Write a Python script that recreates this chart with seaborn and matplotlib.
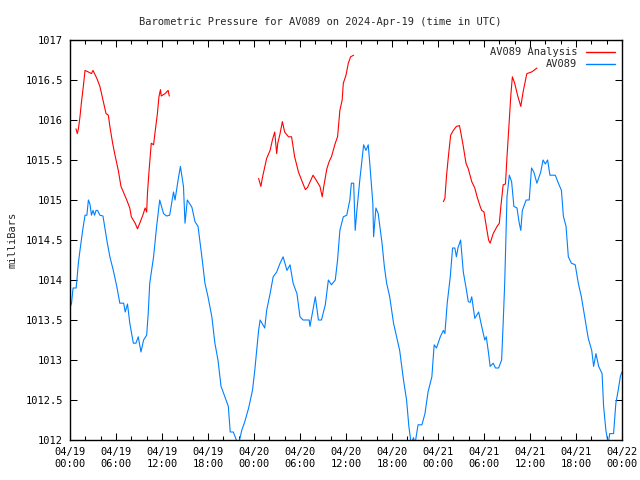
import numpy as np
import pandas as pd
import matplotlib
matplotlib.use("Agg")
import matplotlib.pyplot as plt
import seaborn as sns
from matplotlib.ticker import MultipleLocator, FuncFormatter

# ---- data (hours since 2024-04-19 00:00 UTC, millibars) ----
obs_hours = [0.0, 0.2, 0.4, 0.8, 0.9, 1.09, 1.3, 1.65, 1.96, 2.2, 2.4, 2.6, 2.8, 3.0, 3.2, 3.4,
             3.6, 3.9, 4.3, 4.8, 5.2, 5.65, 6.1, 6.5, 7.0, 7.2, 7.5, 7.8, 8.26, 8.6, 8.9, 9.26,
             9.6, 10.0, 10.2, 10.4, 10.9, 11.3, 11.7, 12.2, 12.6, 13.0, 13.5, 13.7, 14.1, 14.4,
             14.8, 15.0, 15.3, 15.9, 16.3, 16.7, 17.2, 17.6, 18.0, 18.5, 18.9, 19.3, 19.7, 19.9,
             20.2, 20.65, 20.9, 21.3, 21.7, 22.0, 22.4, 22.8, 23.3, 23.8, 24.1, 24.6, 24.8, 25.4,
             25.65, 26.1, 26.5, 26.96, 27.4, 27.8, 28.3, 28.7, 29.1, 29.6, 30.0, 30.4, 31.2, 31.3,
             32.0, 32.4, 32.8, 33.3, 33.7, 34.1, 34.6, 34.9, 35.2, 35.65, 36.1, 36.5, 36.7, 37.0,
             37.2, 37.4, 37.8, 38.3, 38.6, 38.9, 39.1, 39.5, 39.6, 39.9, 40.2, 40.7, 41.0, 41.3,
             41.7, 42.2, 42.6, 43.0, 43.5, 43.9, 44.2, 44.5, 44.8, 45.0, 45.4, 45.9, 46.3, 46.7,
             47.2, 47.5, 47.8, 48.3, 48.7, 48.9, 49.2, 49.6, 49.9, 50.2, 50.4, 50.6, 50.95, 51.3,
             51.7, 51.95, 52.2, 52.4, 52.8, 53.3, 53.7, 54.1, 54.3, 54.6, 54.8, 55.2, 55.5, 55.9,
             56.3, 56.5, 56.7, 57.0, 57.3, 57.6, 57.9, 58.3, 58.6, 58.8, 59.0, 59.5, 59.9, 60.2,
             60.5, 60.9, 61.4, 61.7, 62.0, 62.3, 62.6, 63.3, 63.7, 64.1, 64.35, 64.7, 65.0, 65.4,
             65.9, 66.3, 66.7, 67.2, 67.6, 68.05, 68.3, 68.6, 68.96, 69.4, 69.6, 69.9, 70.2, 70.4,
             70.9, 71.2, 71.5, 71.8, 72.0]
obs_mb = [1013.65, 1013.71, 1013.9, 1013.9, 1014.0, 1014.21, 1014.37, 1014.62, 1014.81, 1014.81,
          1015.0, 1014.95, 1014.81, 1014.87, 1014.81, 1014.87, 1014.87, 1014.81, 1014.8, 1014.5,
          1014.29, 1014.12, 1013.92, 1013.71, 1013.71, 1013.6, 1013.7, 1013.46, 1013.21, 1013.21,
          1013.29, 1013.1, 1013.25, 1013.31, 1013.58, 1013.96, 1014.29, 1014.67, 1015.0, 1014.83,
          1014.8, 1014.81, 1015.1, 1015.0, 1015.25, 1015.42, 1015.17, 1014.71, 1015.0, 1014.91,
          1014.73, 1014.67, 1014.29, 1013.96, 1013.79, 1013.54, 1013.21, 1013.0, 1012.67, 1012.62,
          1012.54, 1012.42, 1012.1, 1012.1, 1012.0, 1011.95, 1012.12, 1012.23, 1012.4, 1012.62,
          1012.87, 1013.37, 1013.5, 1013.4, 1013.62, 1013.83, 1014.04, 1014.1, 1014.21, 1014.29,
          1014.12, 1014.19, 1013.96, 1013.83, 1013.54, 1013.5, 1013.5, 1013.42, 1013.79, 1013.5,
          1013.5, 1013.69, 1014.0, 1013.94, 1014.0, 1014.25, 1014.62, 1014.79, 1014.81, 1015.0,
          1015.21, 1015.21, 1014.62, 1014.85, 1015.25, 1015.69, 1015.62, 1015.69, 1015.46, 1014.96,
          1014.54, 1014.9, 1014.83, 1014.46, 1014.17, 1013.96, 1013.79, 1013.46, 1013.29, 1013.12,
          1012.75, 1012.5, 1012.17, 1011.95, 1012.03, 1011.95, 1012.19, 1012.19, 1012.33, 1012.6,
          1012.79, 1013.19, 1013.15, 1013.29, 1013.37, 1013.33, 1013.71, 1014.04, 1014.4, 1014.4,
          1014.29, 1014.4, 1014.5, 1014.1, 1013.88, 1013.73, 1013.72, 1013.79, 1013.52, 1013.6,
          1013.42, 1013.25, 1013.29, 1013.08, 1012.92, 1012.96, 1012.9, 1012.9, 1013.0, 1013.46,
          1013.96, 1015.04, 1015.31, 1015.23, 1014.92, 1014.9, 1014.71, 1014.62, 1014.87, 1015.0,
          1015.0, 1015.4, 1015.35, 1015.21, 1015.35, 1015.5, 1015.45, 1015.5, 1015.31, 1015.31,
          1015.21, 1015.12, 1014.8, 1014.67, 1014.29, 1014.21, 1014.19, 1013.96, 1013.79, 1013.5,
          1013.27, 1013.12, 1012.92, 1013.08, 1012.92, 1012.83, 1012.42, 1012.12, 1011.95, 1012.08,
          1012.08, 1012.46, 1012.62, 1012.8, 1012.85]

ana1_hours = [0.78, 0.95, 1.1, 1.3, 1.5, 1.74, 1.96, 2.4, 2.8, 3.0, 3.5, 3.9, 4.3, 4.7, 5.0, 5.2,
              5.56, 5.87, 6.3, 6.65, 6.96, 7.4, 7.8, 8.0, 8.5, 8.8, 9.1, 9.5, 9.8, 10.0, 10.1,
              10.3, 10.6, 10.9, 11.1, 11.4, 11.6, 11.8, 11.9, 12.4, 12.8, 12.95]
ana1_mb = [1015.89, 1015.83, 1015.89, 1016.04, 1016.23, 1016.42, 1016.62, 1016.6, 1016.58, 1016.62,
           1016.52, 1016.42, 1016.25, 1016.08, 1016.06, 1015.92, 1015.71, 1015.56, 1015.37, 1015.17,
           1015.1, 1015.0, 1014.9, 1014.79, 1014.71, 1014.64, 1014.71, 1014.81, 1014.9, 1014.85,
           1015.08, 1015.35, 1015.71, 1015.69, 1015.85, 1016.08, 1016.29, 1016.38, 1016.3, 1016.33,
           1016.37, 1016.3]

ana2_hours = [24.6, 24.9, 25.1, 25.65, 26.1, 26.4, 26.7, 26.96, 27.1, 27.4, 27.7, 28.0, 28.5, 28.9,
              29.3, 29.8, 30.2, 30.7, 31.0, 31.7, 32.1, 32.6, 32.9, 33.1, 33.5, 33.8, 34.1, 34.6,
              34.9, 35.2, 35.5, 35.65, 36.0, 36.3, 36.6, 37.0]
ana2_mb = [1015.27, 1015.17, 1015.28, 1015.52, 1015.62, 1015.75, 1015.85, 1015.58, 1015.71, 1015.83,
           1015.98, 1015.85, 1015.79, 1015.79, 1015.54, 1015.35, 1015.25, 1015.13, 1015.16, 1015.31,
           1015.25, 1015.17, 1015.04, 1015.17, 1015.39, 1015.48, 1015.54, 1015.71, 1015.79, 1016.12,
           1016.25, 1016.46, 1016.56, 1016.71, 1016.79, 1016.81]

ana3_hours = [48.7, 48.9, 49.1, 49.35, 49.65, 50.0, 50.4, 50.8, 51.0, 51.3, 51.65, 51.95, 52.4,
              52.8, 53.1, 53.5, 53.7, 54.0, 54.3, 54.6, 54.8, 55.2, 55.7, 56.0, 56.2, 56.5, 56.8,
              57.0, 57.3, 57.5, 57.7, 58.0, 58.4, 58.8, 59.1, 59.5, 59.6, 60.2, 60.5, 60.9]
ana3_mb = [1014.98, 1015.02, 1015.29, 1015.54, 1015.81, 1015.87, 1015.92, 1015.93, 1015.83, 1015.67,
           1015.46, 1015.39, 1015.23, 1015.15, 1015.04, 1014.92, 1014.87, 1014.85, 1014.67, 1014.5,
           1014.46, 1014.58, 1014.67, 1014.71, 1014.92, 1015.19, 1015.2, 1015.54, 1016.0, 1016.31,
           1016.54, 1016.46, 1016.3, 1016.17, 1016.35, 1016.54, 1016.58, 1016.6, 1016.62, 1016.65]

tick_labels = ["04/19\n00:00", "04/19\n06:00", "04/19\n12:00", "04/19\n18:00",
               "04/20\n00:00", "04/20\n06:00", "04/20\n12:00", "04/20\n18:00",
               "04/21\n00:00", "04/21\n06:00", "04/21\n12:00", "04/21\n18:00",
               "04/22\n00:00"]

sns.set_style("ticks")
plt.rcParams['font.family'] = ['DejaVu Sans Mono']
plt.rcParams['font.size'] = 7.5

fig = plt.figure(figsize=(6.4, 4.8), dpi=100)
ax = fig.add_axes([70 / 640, 40 / 480, 552 / 640, 400 / 480])

# analysis comes in separate runs, so draw each run on its own
segments = [(ana1_hours, ana1_mb), (ana2_hours, ana2_mb), (ana3_hours, ana3_mb)]
for i, (h, v) in enumerate(segments):
    sns.lineplot(x=h, y=v, ax=ax, color="#ff0000", linewidth=0.8,
                 label="AV089 Analysis" if i == 0 else None)
sns.lineplot(x=obs_hours, y=obs_mb, ax=ax, color="#0080ff", linewidth=0.8,
             label="AV089")

ax.set_xlim(0, 72)
ax.set_ylim(1012, 1017)
ax.set_xticks(np.arange(0, 73, 6))
ax.set_xticklabels(tick_labels)
ax.xaxis.set_minor_locator(MultipleLocator(2))
ax.yaxis.set_major_locator(MultipleLocator(0.5))
ax.yaxis.set_major_formatter(FuncFormatter(lambda v, pos: f"{v:g}"))
ax.tick_params(which="both", direction="in", top=True, right=True, width=0.75, color="black",
               labelsize=7.5, labelcolor="black")
ax.tick_params(which="major", length=5, pad=5)
ax.tick_params(which="minor", length=3)
for s in ax.spines.values():
    s.set_visible(True)
    s.set_color("black")
    s.set_linewidth(1)

ax.set_xlabel("")
ax.set_ylabel("milliBars", fontsize=7.5, labelpad=6)
fig.suptitle("Barometric Pressure for AV089 on 2024-Apr-19 (time in UTC)", y=0.965, fontsize=7.5)

leg = ax.legend(loc="upper right", frameon=False, markerfirst=False, handlelength=2.8,
                handletextpad=0.8, labelspacing=0.2, borderaxespad=0.3, fontsize=7.5)
for line in leg.get_lines():
    line.set_linewidth(1.0)

fig.savefig("out.png", dpi=100)
